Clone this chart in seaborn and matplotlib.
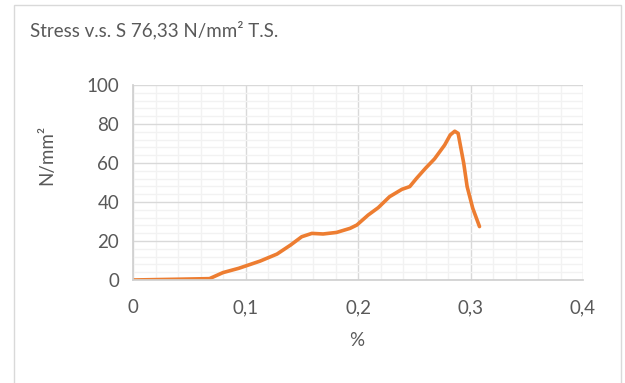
import numpy as np, pandas as pd
import matplotlib
matplotlib.use("Agg")
import matplotlib.pyplot as plt
from matplotlib.patches import Rectangle
from matplotlib.ticker import MultipleLocator, FuncFormatter
import seaborn as sns

sns.set_theme(style="white")
plt.rcParams['font.family'] = ['Lato', 'DejaVu Sans']

# strain (%) and stress (N/mm2)
strain = [0.000, 0.020, 0.040, 0.068, 0.080, 0.094, 0.113, 0.128, 0.140, 0.150,
          0.159, 0.169, 0.181, 0.193, 0.199, 0.209, 0.218, 0.228, 0.239, 0.246,
          0.252, 0.260, 0.268, 0.277, 0.282, 0.286, 0.289, 0.294, 0.297, 0.302, 0.308]
stress = [0.0, 0.2, 0.4, 0.7, 3.8, 6.0, 9.7, 13.3, 17.9, 22.2,
          23.9, 23.6, 24.4, 26.5, 28.2, 33.3, 37.1, 42.7, 46.5, 47.9,
          52.1, 57.3, 62.1, 69.2, 74.4, 76.3, 75.2, 59.8, 47.9, 36.8, 27.4]
df = pd.DataFrame({"strain": strain, "stress": stress})

txt = "#595959"
fs = 13.5
fig = plt.figure(figsize=(6.25, 3.83), dpi=100)
ax = fig.add_axes([133/625, 1-280/383, 450/625, 195/383])

sns.lineplot(data=df, x="strain", y="stress", sort=False, ax=ax,
             color="#ED7D31", linewidth=2.6, solid_capstyle="round", solid_joinstyle="round")

ax.set_xlim(0, 0.4); ax.set_ylim(0, 100)
ax.xaxis.set_major_locator(MultipleLocator(0.1))
ax.xaxis.set_minor_locator(MultipleLocator(0.02))
ax.yaxis.set_major_locator(MultipleLocator(20))
ax.yaxis.set_minor_locator(MultipleLocator(4))
ax.xaxis.set_major_formatter(FuncFormatter(lambda v, p: "0" if abs(v) < 1e-9 else f"{v:.1f}".replace(".", ",")))
ax.yaxis.set_major_formatter(FuncFormatter(lambda v, p: f"{v:.0f}"))
ax.grid(which="major", color="#d9d9d9", linewidth=1.0)
ax.grid(which="minor", color="#f2f2f2", linewidth=1.0)
ax.set_axisbelow(True)
for s in ["top", "right"]:
    ax.spines[s].set_visible(False)
for s in ["left", "bottom"]:
    ax.spines[s].set_color("#d0d0d0")
ax.tick_params(which="major", length=5, color="#d0d0d0", labelsize=fs, labelcolor=txt, pad=5, width=1)
ax.tick_params(which="minor", length=0)
ax.tick_params(axis="x", pad=9)
ax.set_xlabel(""); ax.set_ylabel("")

fig.text(47/625, 1-155/383, "N/mm²", rotation=90, ha="center", va="center", fontsize=fs, color=txt)
fig.text(357/625, 1-341/383, "%", ha="center", va="center", fontsize=fs, color=txt)
fig.text(30/625, 1-30/383, "Stress v.s. S 76,33 N/mm² T.S.", ha="left", va="center", fontsize=fs, color=txt)

fig.patches.append(Rectangle((13.5/625, -0.05), (621-13.5)/625, 1.05-5/383,
                             transform=fig.transFigure, fill=False, edgecolor="#d9d9d9", linewidth=1))

fig.savefig("out.png", dpi=100)
